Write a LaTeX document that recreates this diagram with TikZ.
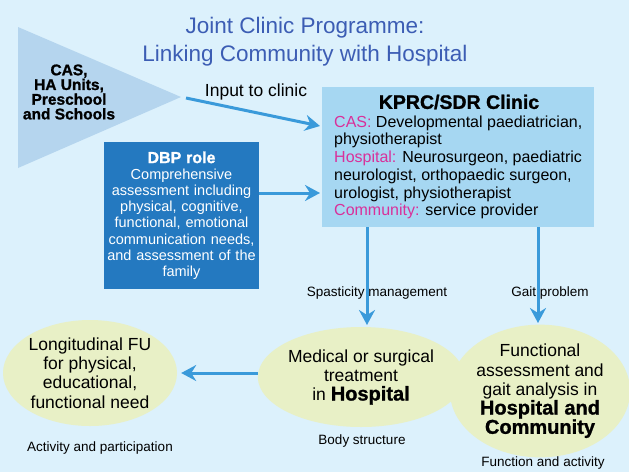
\documentclass[tikz,border=0pt]{standalone}
\usepackage{fontspec}
\setmainfont{Liberation Sans}
\newfontfamily\heavyfont{Liberation Sans}[BoldFeatures={FakeBold=1.2}]
\usetikzlibrary{arrows.meta, shapes.geometric}

\definecolor{paper}{HTML}{DCF1FC}
\definecolor{wedge}{HTML}{B5D5EE}
\definecolor{clinicfill}{HTML}{A6D7F2}
\definecolor{dbpfill}{HTML}{2479C0}
\definecolor{oval}{HTML}{E8F0C6}
\definecolor{flowblue}{HTML}{3A9ADA}
\definecolor{titleblue}{HTML}{3C5DB4}
\definecolor{tag}{HTML}{D9309A}

\newcommand{\fsize}[1]{\fontsize{#1}{1.1\dimexpr #1pt\relax}\selectfont}
\newcommand{\heavy}[2]{{\heavyfont\bfseries\fontsize{#1}{#1}\selectfont #2}}

\begin{document}
\begin{tikzpicture}[%
        x = 1pt,
        y = -1pt,
        flow/.style = {
            draw = flowblue,
            line width = 3pt,
            -{Stealth[length=15pt, width=16pt, inset=5pt]}
        },
        outcome/.style = {
            ellipse,
            fill = oval,
            inner sep = 0pt,
            align = center,
            font = \fsize{17.5}
        },
        note/.style = {
            font = \fsize{13.5}
        }
    ]

        % Page background.
        \clip (0, 0) rectangle (629, 472);
        \fill[paper] (0, 0) rectangle (629, 472);

        % Title.
        \node[titleblue, align=center, font=\fontsize{22.5}{28}\selectfont]
            (title) at (305, 42) {Joint Clinic Programme:\\Linking Community with Hospital};

        % Referral sources drawn as a wedge pointing to the clinic.
        \fill[wedge] (18, 27) -- (181, 97) -- (18, 168) -- cycle;
        \coordinate (tip) at (186, 98);
        \node[align=center, font=\heavyfont\bfseries\fontsize{15.5}{14.7}\selectfont]
            (sources) at (69, 92) {CAS,\\HA Units,\\Preschool\\and Schools};

        % The joint clinic box and its members.
        \node[fill=clinicfill, minimum width=272, minimum height=140, inner sep=0pt]
            (clinic) at (458, 157) {};
        \node (clinictitle) at (459, 102) {\heavy{19.5}{KPRC/SDR Clinic}};
        \node[anchor=north west, inner sep=0pt, align=left, font=\fontsize{16}{17.7}\selectfont]
            (members) at (334, 115.5) {%
            \textcolor{tag}{CAS:} Developmental paediatrician,\\
            physiotherapist\\
            \textcolor{tag}{Hospital:} Neurosurgeon, paediatric\\
            neurologist, orthopaedic surgeon,\\
            urologist, physiotherapist\\
            \textcolor{tag}{Community:} service provider};

        % DBP role box.
        \node[fill=dbpfill, text=white, minimum width=155, minimum height=147,
              text width=150, inner sep=0pt, align=center,
              font=\fontsize{14.5}{16.2}\selectfont]
            (dbp) at (181.5, 215.5) {%
            \heavy{16}{DBP role}\\
            Comprehensive\\
            assessment including\\
            physical, cognitive,\\
            functional, emotional\\
            communication needs,\\
            and assessment of the\\
            family};

        % Outcome ovals along the bottom.
        \node[outcome, minimum width=174, minimum height=106]
            (longfu) at (90, 373) {Longitudinal FU\\for physical,\\educational,\\functional need};
        \node[outcome, minimum width=170, minimum height=100]
            (medical) at (361, 377) {Medical or surgical\\treatment\\in \heavy{20}{Hospital}};
        \node[outcome, minimum width=180, minimum height=112]
            (gait) at (540, 391) {Functional\\assessment and\\gait analysis in\\\heavy{20}{Hospital and}\\\heavy{20}{Community}};

        % Labels under the ovals.
        \node[note] (activity) at (100, 448) {Activity and participation};
        \node[note] (body) at (362, 441) {Body structure};
        \node[note] (function) at (543, 463) {Function and activity};

        % Labels on the arrows.
        \node[font=\fsize{17.5}] (input) at (256, 92) {Input to clinic};
        \node[note] (spaslabel) at (377, 293) {Spasticity management};
        \node[note] (gaitlabel) at (550, 293) {Gait problem};

        % Arrows between the parts.
        \coordinate (intoclinic) at (320, 126);
        \coordinate (dbpin) at (320, 193);
        \coordinate (spas) at (367, 325);
        \coordinate (gaitend) at (538, 323);
        \draw[flow] (tip) to (intoclinic);
        \draw[flow] (dbp.east |- dbpin) to (dbpin);
        \draw[flow] (clinic.south -| spas) to (spas);
        \draw[flow] (clinic.south -| gaitend) to (gaitend);
        \draw[flow] (medical.west |- longfu) to ([xshift=4]longfu.east);
    \end{tikzpicture}
\end{document}
